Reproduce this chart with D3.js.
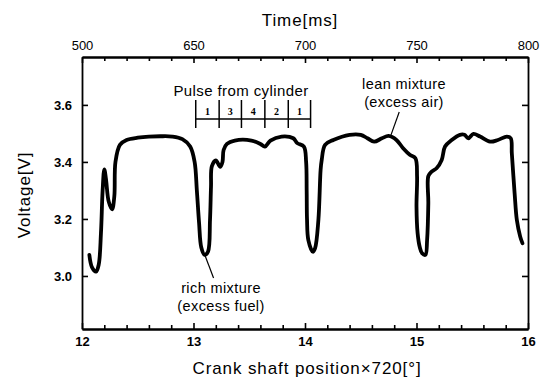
<!DOCTYPE html>
<html><head><meta charset="utf-8">
<script src="https://cdn.jsdelivr.net/npm/d3@7"></script>
<style>
html,body{margin:0;padding:0;background:#fff;}
svg{display:block;}
.tick text{font-family:"Liberation Sans",Arial,sans-serif;font-weight:bold;font-size:13px;fill:#000;}
.lbl{font-family:"Liberation Sans",Arial,sans-serif;font-size:17px;fill:#000;letter-spacing:0.9px;}
.ann{font-family:"Liberation Sans",Arial,sans-serif;font-size:14.5px;fill:#000;letter-spacing:0.4px;}
</style></head>
<body><svg id="c" width="541" height="380"></svg>
<script>
// ---- data ----
const crank = [12.066,12.09,12.126,12.15,12.17,12.185,12.2,12.215,12.24,12.27,12.29,12.30,12.34,12.40,12.5,12.6,12.7,12.81,12.90,12.97,13.01,13.03,13.05,13.07,13.10,13.13,13.148,13.157,13.165,13.2,13.24,13.26,13.27,13.30,13.37,13.52,13.60,13.64,13.69,13.79,13.895,13.93,13.99,14.01,14.015,14.018,14.03,14.07,14.09,14.12,14.14,14.15,14.18,14.254,14.40,14.50,14.56,14.62,14.69,14.75,14.82,14.88,14.94,14.99,15.005,15.0,15.01,15.03,15.05,15.08,15.095,15.106,15.106,15.136,15.18,15.226,15.256,15.316,15.39,15.43,15.465,15.51,15.57,15.66,15.73,15.81,15.845,15.855,15.88,15.90,15.93,15.95];
const voltage = [3.074,3.03,3.015,3.04,3.15,3.30,3.374,3.34,3.26,3.234,3.28,3.40,3.46,3.477,3.485,3.489,3.49,3.489,3.48,3.454,3.40,3.30,3.186,3.10,3.074,3.085,3.196,3.313,3.385,3.405,3.383,3.40,3.442,3.463,3.475,3.475,3.463,3.454,3.475,3.489,3.483,3.466,3.454,3.40,3.30,3.20,3.126,3.085,3.097,3.196,3.372,3.407,3.46,3.477,3.495,3.495,3.483,3.471,3.483,3.491,3.477,3.448,3.425,3.413,3.35,3.243,3.15,3.10,3.08,3.074,3.126,3.255,3.35,3.366,3.378,3.407,3.454,3.477,3.495,3.495,3.483,3.498,3.489,3.471,3.477,3.489,3.483,3.43,3.29,3.196,3.138,3.115];
const crankTicks = [12,13,14,15,16];
const timeTicks = [600,650,700,750,800];
const timeTickLabels = ["500","650","700","750","800"];
const voltTicks = [3.0,3.2,3.4,3.6];
const pulseEdges = [13.02,13.23,13.43,13.64,13.85,14.05];
const pulseCyl = ["1","3","4","2","1"];

// ---- layout ----
const L=82,R=528,T=57,B=329;
const svg=d3.select("#c");
svg.append("rect").attr("width",541).attr("height",380).attr("fill","#fff");
const x=d3.scaleLinear().domain([12,16]).range([L,R]);
const t=d3.scaleLinear().domain([600,800]).range([L,R]);
const y=d3.scaleLinear().domain([2.814,3.768]).range([B,T]);

function style(g){
  g.selectAll(".domain").attr("stroke","#000").attr("stroke-width",1.8);
  g.selectAll(".tick line").attr("stroke","#000").attr("stroke-width",1.6);
}
// minor ticks
const minorC=d3.range(12,16.001,0.2).filter(v=>Math.abs(v-Math.round(v))>1e-6);
const minorT=d3.range(600,800.1,10).filter(v=>v%50!==0);
svg.append("g").attr("transform",`translate(0,${B})`)
  .call(d3.axisBottom(x).tickValues(minorC).tickSize(-4).tickFormat("").tickSizeOuter(0)).call(style);
svg.append("g").attr("transform",`translate(0,${T})`)
  .call(d3.axisTop(t).tickValues(minorT).tickSize(-4).tickFormat("").tickSizeOuter(0)).call(style);
// major
svg.append("g").attr("transform",`translate(0,${B})`)
  .call(d3.axisBottom(x).tickValues(crankTicks).tickSize(-6).tickPadding(8).tickSizeOuter(0).tickFormat(d3.format("d"))).call(style);
svg.append("g").attr("transform",`translate(0,${T})`)
  .call(d3.axisTop(t).tickValues(timeTicks).tickSize(-6).tickPadding(7).tickSizeOuter(0).tickFormat((d,i)=>timeTickLabels[i])).call(style)
  .selectAll(".tick text").style("font-weight","normal");
svg.append("g").attr("transform",`translate(${L},0)`)
  .call(d3.axisLeft(y).tickValues(voltTicks).tickSize(-6).tickPadding(10).tickSizeOuter(0).tickFormat(d3.format(".1f"))).call(style);
svg.append("g").attr("transform",`translate(${R},0)`)
  .call(d3.axisRight(y).tickValues(voltTicks).tickSize(-6).tickSizeOuter(0).tickFormat("")).call(style);

// curve
const pts=crank.map((c,i)=>[c,voltage[i]]);
svg.append("path").datum(pts)
  .attr("d",d3.line().x(d=>x(d[0])).y(d=>y(d[1])).curve(d3.curveCatmullRom.alpha(0.5)))
  .attr("fill","none").attr("stroke","#000").attr("stroke-width",3.8).attr("stroke-linejoin","round").attr("stroke-linecap","round");

// axis titles
svg.append("text").attr("class","lbl").attr("x",300).attr("y",26).attr("text-anchor","middle").text("Time[ms]");
svg.append("text").attr("class","lbl").attr("x",307).attr("y",374).attr("text-anchor","middle").text("Crank shaft position×720[°]");
svg.append("text").attr("class","lbl").attr("transform",`translate(30,${(T+B)/2+2}) rotate(-90)`).attr("text-anchor","middle").text("Voltage[V]");

// pulse bracket
const pg=svg.append("g");
const yH=119, yTop=100, yBot=128;
pg.append("line").attr("x1",x(pulseEdges[0])).attr("x2",x(pulseEdges[pulseEdges.length-1])).attr("y1",yH).attr("y2",yH).attr("stroke","#000").attr("stroke-width",1.5);
pg.selectAll("line.v").data(pulseEdges).enter().append("line").attr("class","v")
  .attr("x1",d=>x(d)).attr("x2",d=>x(d)).attr("y1",yTop).attr("y2",yBot).attr("stroke","#000").attr("stroke-width",1.5);
pg.selectAll("text.n").data(pulseCyl).enter().append("text").attr("class","n")
  .attr("x",(d,i)=>(x(pulseEdges[i])+x(pulseEdges[i+1]))/2).attr("y",115)
  .attr("text-anchor","middle").attr("font-family","'Liberation Serif',serif").attr("font-weight","bold").attr("font-size","10px").text(d=>d);
svg.append("text").attr("class","ann").attr("x",241).attr("y",96).attr("text-anchor","middle").style("font-size","15px").text("Pulse from cylinder");

// annotations
svg.append("text").attr("class","ann").attr("x",404).attr("y",89).attr("text-anchor","middle").text("lean mixture");
svg.append("text").attr("class","ann").attr("x",404).attr("y",107).attr("text-anchor","middle").text("(excess air)");
svg.append("line").attr("x1",x(14.77)).attr("y1",y(3.493)).attr("x2",x(14.845)).attr("y2",112).attr("stroke","#000").attr("stroke-width",1.2);
svg.append("text").attr("class","ann").attr("x",221).attr("y",293).attr("text-anchor","middle").text("rich mixture");
svg.append("text").attr("class","ann").attr("x",221).attr("y",311).attr("text-anchor","middle").text("(excess fuel)");
svg.append("line").attr("x1",x(13.105)).attr("y1",y(3.07)).attr("x2",x(13.18)).attr("y2",278).attr("stroke","#000").attr("stroke-width",1.2);
</script></body></html>
